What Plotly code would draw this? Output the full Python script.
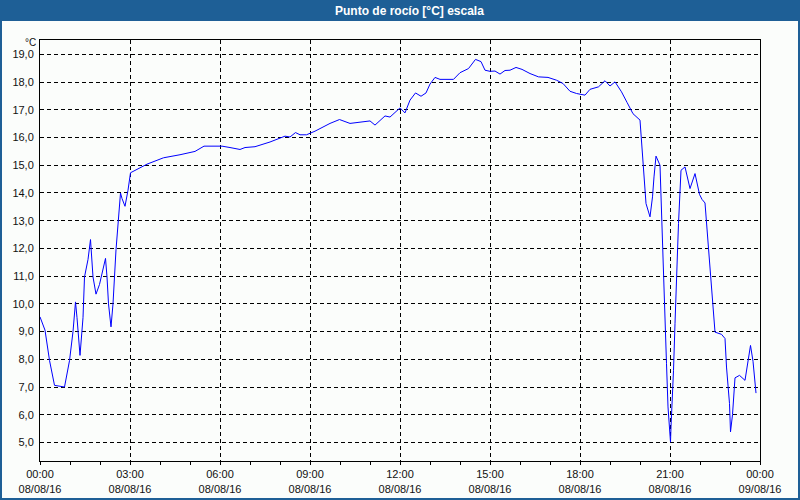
import plotly.graph_objects as go

# ---- data ----
times = ["00:00","00:10","00:19","00:29","00:49","00:59","01:06","01:11","01:14","01:20",
         "01:26","01:29","01:36","01:41","01:46","01:52","01:59","02:06","02:11","02:14",
         "02:17","02:22","02:26","02:32","02:36","02:41","02:44","02:50","02:56","03:01",
         "03:34","04:07","04:40","05:10","05:28","06:04","06:20","06:40","06:50","07:10",
         "07:40","08:10","08:20","08:31","08:40","08:53","09:10","09:40","09:59","10:20",
         "11:00","11:10","11:30","11:40","12:00","12:10","12:20","12:31","12:42","12:52",
         "13:00","13:10","13:20","13:47","14:00","14:17","14:31","14:42","14:50","15:00",
         "15:10","15:20","15:30","15:40","15:52","16:04","16:20","16:37","16:56","17:13",
         "17:26","17:40","17:53","18:10","18:20","18:37","18:50","19:00","19:10","19:23",
         "19:34","19:46","20:00","20:04","20:07","20:12","20:20","20:25","20:28","20:32",
         "20:40","20:43","20:47","20:50","20:53","20:56","20:59","21:01","21:02","21:04",
         "21:07","21:10","21:13","21:17","21:22","21:30","21:40","21:50","21:59","22:04",
         "22:10","22:17","22:23","22:30","22:43","22:50","22:53","22:59","23:01","23:05",
         "23:10","23:19","23:30","23:37","23:41","23:46","23:50","23:52"]
dew_point = [9.53,9.05,7.96,7.06,7.00,7.95,9.00,10.07,9.50,8.14,
             9.50,10.97,11.60,12.32,10.97,10.35,10.70,11.30,11.64,10.97,
             10.00,9.17,10.00,11.95,13.00,14.00,13.80,13.52,14.10,14.73,
             15.04,15.27,15.38,15.50,15.69,15.69,15.64,15.57,15.64,15.67,
             15.84,16.05,16.02,16.18,16.10,16.10,16.23,16.51,16.65,16.51,
             16.60,16.45,16.78,16.74,17.07,16.89,17.35,17.61,17.49,17.61,
             17.93,18.17,18.10,18.10,18.34,18.49,18.82,18.74,18.43,18.39,
             18.40,18.29,18.42,18.43,18.53,18.46,18.31,18.19,18.17,18.07,
             17.95,17.67,17.59,17.53,17.74,17.83,18.05,17.86,18.01,17.65,
             17.27,16.86,16.63,15.66,14.58,13.62,13.14,13.86,14.58,15.33,
             15.00,13.14,10.85,9.41,7.84,6.28,5.50,5.01,5.56,6.20,
             7.60,9.29,11.09,12.90,14.82,14.94,14.16,14.70,13.95,13.77,
             13.64,12.05,10.73,8.98,8.90,8.75,7.72,6.40,5.38,6.00,
             7.33,7.42,7.24,8.03,8.50,7.93,6.98,6.78]
day = "2016-08-08"
x_range = ["2016-08-08 00:00", "2016-08-09 00:00"]
y_range = [4.33, 19.52]
title_text = "Punto de rocío [°C] escala"
unit_text = "°C"

x_vals = [f"{day} {t}" for t in times]

# ---- geometry helpers (pixels -> paper) ----
W, H = 800, 500
L, R, T, B = 40, 40, 40, 39
pw, ph = W - L - R, H - T - B
def px(x): return (x - L) / pw
def py(y): return (H - B - y) / ph

bar_color = "#1e5f96"
bg = "#fbfdfb"
font = "Liberation Sans"

fig = go.Figure()
fig.add_trace(go.Scatter(x=x_vals, y=dew_point, mode="lines",
                         line=dict(color="#0000ff", width=1), hoverinfo="skip"))

fig.update_layout(
    width=W, height=H,
    margin=dict(l=L, r=R, t=T, b=B, pad=0),
    paper_bgcolor=bg, plot_bgcolor=bg,
    showlegend=False,
    separators=", ",
    font=dict(family=font, size=11, color="#111111"),
    xaxis=dict(
        type="date", range=x_range, dtick=3 * 3600000, tick0="2016-08-08 00:00",
        tickformat="%H:%M<br>%d/%m/%y",
        showgrid=True, gridcolor="#000000", gridwidth=1, griddash="4px,3px",
        showline=True, linecolor="#000000", linewidth=1, mirror=True,
        ticks="outside", ticklen=3, tickcolor="#000000",
        minor=dict(dtick=3600000, ticks="outside", ticklen=3, tickcolor="#000000", showgrid=False),
        zeroline=False, automargin=False, fixedrange=True,
        tickfont=dict(family=font, size=11, color="#111111"),
    ),
    yaxis=dict(
        range=y_range, dtick=1, tick0=0, tickformat=".1f",
        showgrid=True, gridcolor="#000000", gridwidth=1, griddash="4px,3px",
        showline=True, linecolor="#000000", linewidth=1, mirror=True,
        ticks="", zeroline=False, automargin=False, fixedrange=True,
        ticklabelstandoff=3,
        tickfont=dict(family=font, size=11, color="#111111"),
    ),
    shapes=[
        dict(type="rect", xref="paper", yref="paper",
             x0=px(0), x1=px(W), y0=py(21), y1=py(0),
             fillcolor=bar_color, line=dict(width=0), layer="above"),
        dict(type="rect", xref="paper", yref="paper",
             x0=px(1), x1=px(W - 1), y0=py(H - 1), y1=py(1),
             fillcolor="rgba(0,0,0,0)", line=dict(color=bar_color, width=2), layer="above"),
    ],
    annotations=[
        dict(text=f"<b>{title_text}</b>", xref="paper", yref="paper",
             x=px(410), y=py(10.5), xanchor="center", yanchor="middle",
             showarrow=False, font=dict(family=font, size=12, color="#ffffff")),
        dict(text=unit_text, xref="paper", yref="paper",
             x=px(38), y=py(42), xanchor="right", yanchor="middle",
             showarrow=False, font=dict(family=font, size=10, color="#111111")),
    ],
)

fig.write_html("out.html", config={"displayModeBar": False})
